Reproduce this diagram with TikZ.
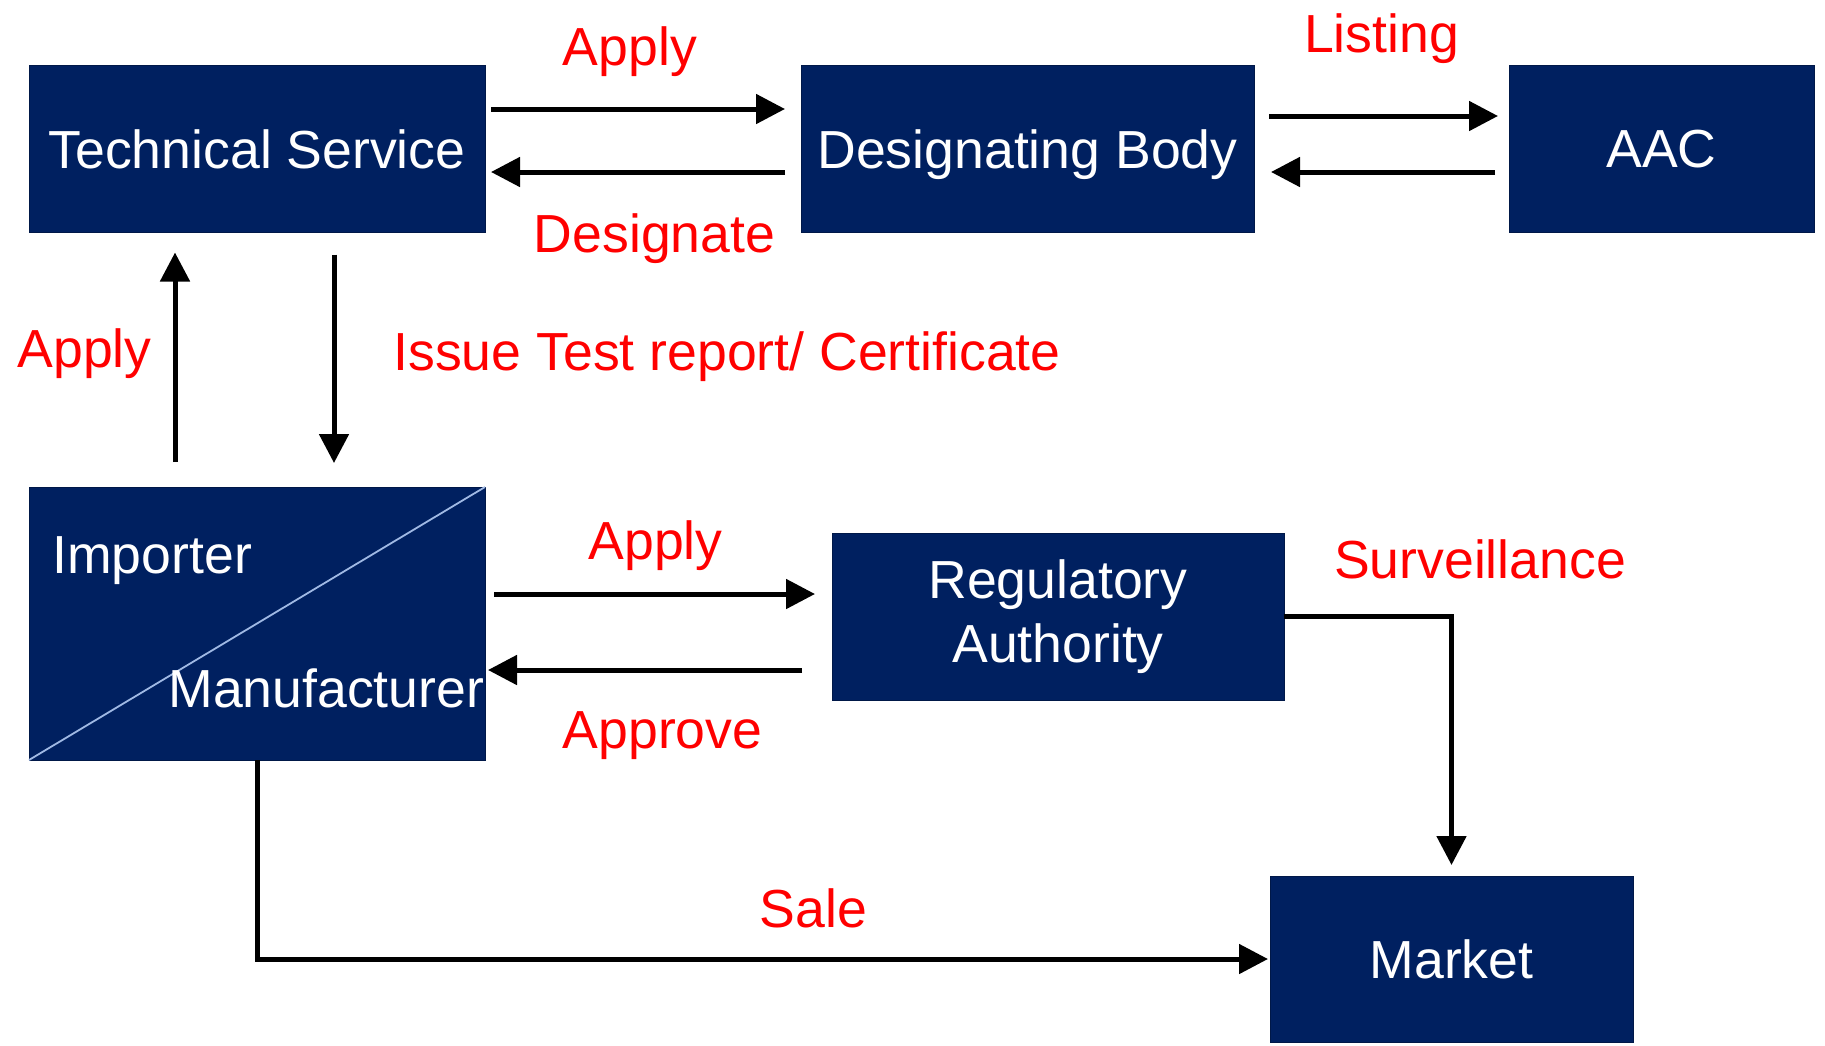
\documentclass[tikz,border=0pt]{standalone}
\usepackage{fontspec}
\setmainfont{Liberation Sans}
\usetikzlibrary{arrows.meta}
\definecolor{boxnavy}{RGB}{0,32,96}
\definecolor{boxedge}{RGB}{0,24,72}
\definecolor{lblred}{RGB}{255,0,0}
\definecolor{diagblue}{RGB}{160,185,228}
\tikzset{
  boxnode/.style={rectangle, fill=boxnavy, draw=boxedge, line width=0.5pt,
    inner sep=0pt, outer sep=0pt, text=white,
    font=\fontsize{26.8pt}{32pt}\selectfont},
  oneline/.style={text depth=0pt},
  lbl/.style={text=lblred, inner sep=0pt, anchor=base,
    font=\fontsize{26.8pt}{32pt}\selectfont},
  boxlbl/.style={text=white, inner sep=0pt, anchor=base west,
    font=\fontsize{26.8pt}{32pt}\selectfont},
  arr/.style={line width=2.5pt, draw=black,
    -{Triangle[length=14.5pt,width=14.5pt]}},
}
\begin{document}
\begin{tikzpicture}[x=0.5pt,y=-0.5pt]
\useasboundingbox (0,0) rectangle (1825,1045);
\fill[white] (0,0) rectangle (1825,1045);

% boxes
\node[boxnode, oneline, minimum width=228pt, minimum height=83.5pt] (ts) at (257,149) {Technical Service};
\node[boxnode, oneline, minimum width=226.5pt, minimum height=83.5pt] (db) at (1027.5,149) {Designating Body};
\node[boxnode, oneline, minimum width=152.5pt, minimum height=83.5pt] (aac) at (1661.5,149) {AAC};
\node[boxnode, minimum width=228pt, minimum height=136.5pt] (im) at (257,623.5) {};
\node[boxnode, align=center, minimum width=226pt, minimum height=83.5pt] (ra) at (1058,616.5) {Regulatory\\Authority};
\node[boxnode, oneline, minimum width=181.5pt, minimum height=83pt] (mk) at (1451.5,959) {Market};

% split of importer / manufacturer box
\draw[diagblue, line width=0.9pt] (im.south west) -- (im.north east);
\node[boxlbl] (imp) at (52,573) {Importer};
\node[boxlbl] (man) at (168,707) {Manufacturer};

% connectors
\draw[arr] ([shift={(3pt,20pt)}]ts.east) -- ([shift={(-8pt,20pt)}]db.west);
\draw[arr] ([shift={(-8pt,-11.5pt)}]db.west) -- ([shift={(3pt,-11.5pt)}]ts.east);
\draw[arr] ([shift={(7.5pt,16.5pt)}]db.east) -- ([shift={(-5.5pt,16.5pt)}]aac.west);
\draw[arr] ([shift={(-7pt,-11.5pt)}]aac.west) -- ([shift={(8.5pt,-11.5pt)}]db.east);
\draw[arr] ([shift={(-41pt,12.5pt)}]im.north) -- ([shift={(-41pt,-10pt)}]ts.south);
\draw[arr] ([shift={(38.5pt,-11pt)}]ts.south) -- ([shift={(38.5pt,12pt)}]im.north);
\draw[arr] ([shift={(4.5pt,14.75pt)}]im.east) -- ([shift={(-8.5pt,11.25pt)}]ra.west);
\draw[arr] ([shift={(-15pt,-26.75pt)}]ra.west) -- ([shift={(1.5pt,-23.25pt)}]im.east);
\draw[arr, shorten >=5.5pt] (ra.east) -| (mk.north);
\draw[arr, shorten >=1pt] (im.south) |- (mk.west);

% labels
\node[lbl] (l1) at (630,65) {Apply};
\node[lbl] (l2) at (654.5,252) {Designate};
\node[lbl] (l3) at (1381.5,52) {Listing};
\node[lbl] (l4) at (84.5,367) {Apply};
\node[lbl, anchor=base west] (l5) at (393,370) {Issue Test report/ Certificate};
\node[lbl] (l6) at (655.5,559) {Apply};
\node[lbl] (l7) at (662.5,748) {Approve};
\node[lbl] (l8) at (1480,578) {Surveillance};
\node[lbl] (l9) at (813.5,927) {Sale};
\end{tikzpicture}
\end{document}
